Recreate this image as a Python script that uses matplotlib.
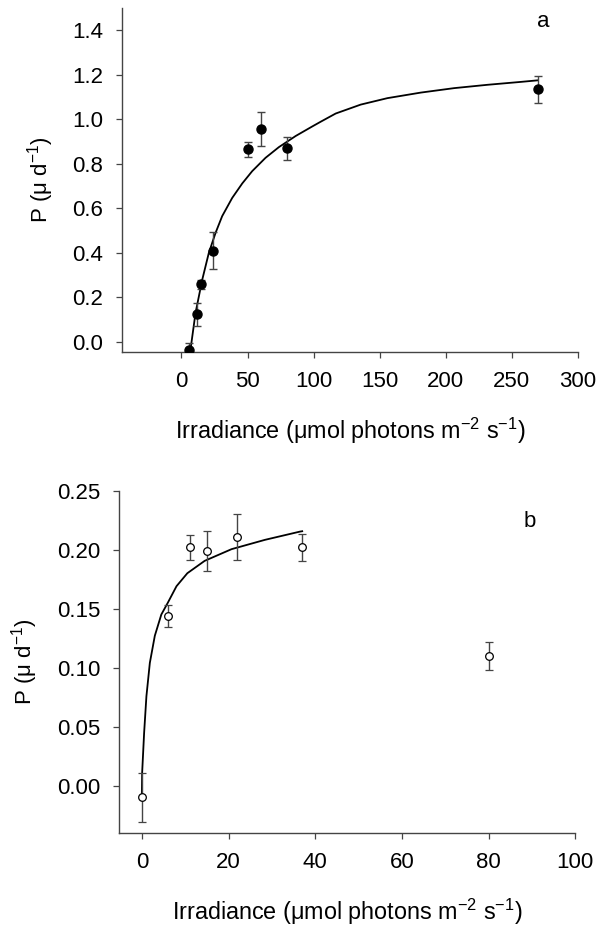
import numpy as np
import matplotlib
matplotlib.use('Agg')
import matplotlib.pyplot as plt

plt.rcParams['font.family'] = ['Liberation Sans', 'DejaVu Sans']
plt.rcParams['mathtext.fontset'] = 'custom'
plt.rcParams['mathtext.rm'] = 'Liberation Sans'
plt.rcParams['mathtext.default'] = 'regular'

# panel a: measured points
irr_a = [6, 12, 15, 24, 50, 60, 80, 270]
p_a = [-0.036, 0.125, 0.26, 0.41, 0.866, 0.958, 0.871, 1.138]
err_lo_a = [0.008, 0.053, 0.022, 0.083, 0.037, 0.080, 0.053, 0.063]
err_hi_a = [0.031, 0.052, 0.019, 0.086, 0.032, 0.075, 0.051, 0.057]

# panel a: fitted curve
fit_irr_a = [6.3, 6.8, 10.6, 15.7, 20.7, 25.8, 30.8, 38.4, 46, 53.5, 63.6,
             73.7, 86.4, 99, 105.3, 116.7, 135.6, 155.8, 181.1, 206.3, 231.6,
             256.8, 269.5]
fit_p_a = [-0.045, -0.036, 0.129, 0.279, 0.400, 0.490, 0.565, 0.647, 0.712,
           0.767, 0.827, 0.875, 0.925, 0.968, 0.989, 1.026, 1.066, 1.095,
           1.120, 1.140, 1.155, 1.168, 1.175]

# panel b: measured points
irr_b = [0, 6, 11, 15, 22, 37, 80]
p_b = [-0.010, 0.144, 0.202, 0.199, 0.211, 0.202, 0.110]
err_lo_b = [0.021, 0.010, 0.011, 0.017, 0.020, 0.012, 0.012]
err_hi_b = [0.021, 0.009, 0.010, 0.017, 0.019, 0.011, 0.012]

# panel b: fitted curve
fit_irr_b = [0, 0.07, 0.53, 1.06, 1.85, 3.0, 4.5, 6.0, 8.0, 10.5, 14.5,
             20.7, 28.4, 36.5, 37]
fit_p_b = [-0.0094, 0.0105, 0.0446, 0.0757, 0.104, 0.127, 0.145, 0.155,
           0.169, 0.180, 0.1905, 0.2004, 0.2083, 0.2153, 0.2156]

xlab = 'Irradiance (μmol photons m$^{-2}$ s$^{-1}$)'
ylab = 'P (μ d$^{-1}$)'
fs = 16

fig = plt.figure(figsize=(6, 9.27), dpi=100)
ax1 = fig.add_axes([0.2033, 0.6203, 0.76, 0.3711])
ax2 = fig.add_axes([0.1988, 0.1017, 0.76, 0.369])

def style(ax):
    for s in ['top', 'right']:
        ax.spines[s].set_visible(False)
    for s in ['left', 'bottom']:
        ax.spines[s].set_color('#444444')
        ax.spines[s].set_linewidth(1.0)
    ax.tick_params(axis='x', direction='out', length=4, width=0.9, pad=10,
                   labelsize=fs, color='#444444')
    ax.tick_params(axis='y', direction='out', length=4.5, width=0.9, pad=9,
                   labelsize=fs, color='#444444')

# top
ax1.plot(fit_irr_a, fit_p_a, '-', color='black', lw=1.3, zorder=2)
ax1.errorbar(irr_a, p_a, yerr=[err_lo_a, err_hi_a], fmt='o', color='black',
             ms=6.5, ecolor='#444444', elinewidth=1, capsize=2.6, capthick=1,
             zorder=3)
ax1.set_xlim(-45, 300)
ax1.set_ylim(-0.045, 1.5)
ax1.set_xticks([0, 50, 100, 150, 200, 250, 300])
ax1.set_yticks(np.arange(0, 1.41, 0.2))
ax1.set_yticklabels(['%.1f' % v for v in np.arange(0, 1.41, 0.2)])
ax1.set_xlabel(xlab, fontsize=16.8, labelpad=17)
ax1.set_ylabel(ylab, fontsize=fs, labelpad=12)
ax1.text(274, 1.437, 'a', fontsize=fs, ha='center', va='center')
style(ax1)

# bottom
ax2.plot(fit_irr_b, fit_p_b, '-', color='black', lw=1.3, zorder=2)
ax2.errorbar(irr_b, p_b, yerr=[err_lo_b, err_hi_b], fmt='o', color='black',
             mfc='white', mec='black', mew=0.9, ms=5.5, ecolor='#444444',
             elinewidth=1, capsize=2.6, capthick=1, zorder=3)
ax2.set_xlim(-5.2, 100)
ax2.set_ylim(-0.04, 0.25)
ax2.set_xticks([0, 20, 40, 60, 80, 100])
ax2.set_yticks(np.arange(0, 0.251, 0.05))
ax2.set_yticklabels(['%.2f' % v for v in np.arange(0, 0.251, 0.05)])
ax2.set_xlabel(xlab, fontsize=16.8, labelpad=17)
ax2.set_ylabel(ylab, fontsize=fs, labelpad=12)
ax2.text(89.6, 0.224, 'b', fontsize=fs, ha='center', va='center')
style(ax2)

fig.savefig('out.png', dpi=100)
